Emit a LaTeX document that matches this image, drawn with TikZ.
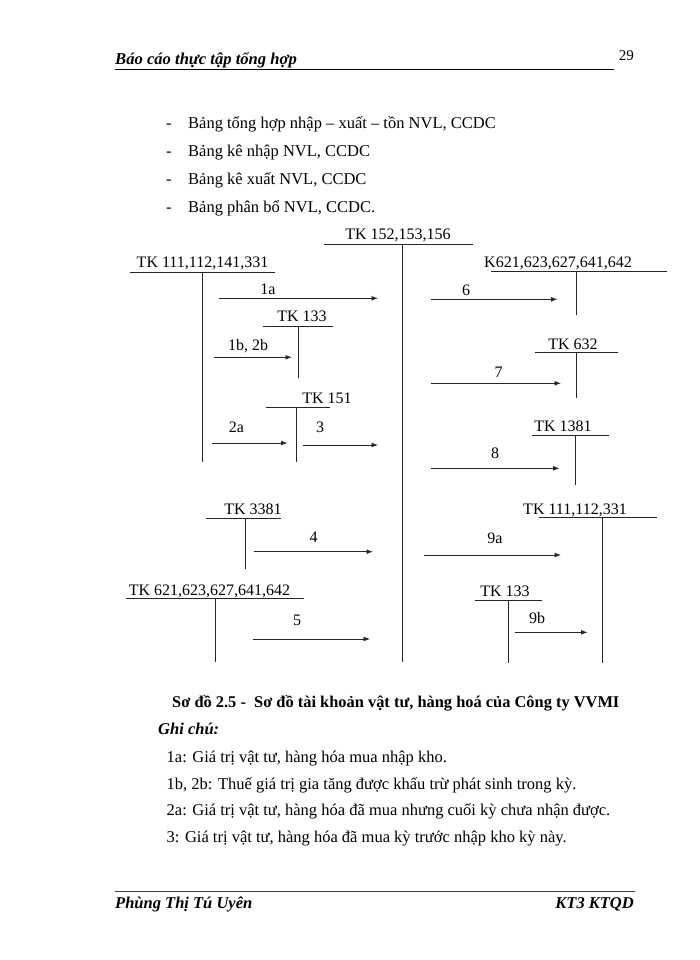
\documentclass[tikz,border=0pt]{standalone}
\usepackage{fontspec}
\setmainfont{Liberation Serif}
\usetikzlibrary{arrows.meta}
\begin{document}
\begin{tikzpicture}[x=1pt,y=-1pt,
  txt/.style={inner sep=0pt,anchor=base west,font=\fontsize{16.5}{20}\selectfont},
  lbl/.style={inner sep=0pt,anchor=base,font=\fontsize{16}{19}\selectfont},
  tline/.style={line width=0.8pt,black!85},
  arr/.style={line width=0.8pt,black!85,-{Latex[length=6.5pt,width=4.8pt]}}]
\useasboundingbox[fill=white] (0,0) rectangle (700,960);
% header
\node[inner sep=0pt,anchor=base west,font=\fontsize{16.6}{19}\selectfont\bfseries\itshape] (hdr) at (115,65) {Báo cáo thực tập tổng hợp};
\node[inner sep=0pt,anchor=base east,font=\fontsize{15}{18}\selectfont] (pg) at (634,61) {29};
\draw[line width=1pt] (115,69.5) -- (614,69.5);
% bullets
\foreach \yy/\tt [count=\i] in {129/{Bảng tổng hợp nhập – xuất – tồn NVL, CCDC},157/{Bảng kê nhập NVL, CCDC},185/{Bảng kê xuất NVL, CCDC},212/{Bảng phân bổ NVL, CCDC.}}{
  \node[txt] (bd\i) at (166,\yy) {-};
  \node[txt] (b\i) at (188,\yy) {\tt};
}
% T accounts
\node[lbl] (tk152) at (398,239) {TK 152,153,156};
\draw[tline] (324,244.5) -- (473,244.5); \draw[tline] (402,244.5) -- (402,662);
\node[lbl] (tk111) at (202.5,267) {TK 111,112,141,331};
\draw[tline] (130,272) -- (275,272); \draw[tline] (202,272) -- (202,462);
\node[lbl] (tk133a) at (302,321.5) {TK 133};
\draw[tline] (263,326) -- (333,326); \draw[tline] (298,326) -- (298,378);
\node[lbl] (tk151) at (327,403.5) {TK 151};
\draw[tline] (265.5,407.5) -- (329.5,407.5); \draw[tline] (296.5,407.5) -- (296.5,462);
\node[lbl] (tk621r) at (558,267) {K621,623,627,641,642};
\draw[tline] (491,271) -- (667,271); \draw[tline] (576,271) -- (576,315);
\node[lbl] (tk632) at (573,349) {TK 632};
\draw[tline] (535,352) -- (618,352); \draw[tline] (576.5,352) -- (576.5,398);
\node[lbl] (tk1381) at (563,431.5) {TK 1381};
\draw[tline] (532,435) -- (609,435); \draw[tline] (575.5,435) -- (575.5,485);
\node[lbl] (tk3381) at (253,514.5) {TK 3381};
\draw[tline] (206,518.5) -- (281,518.5); \draw[tline] (245.5,518.5) -- (245.5,569);
\node[lbl] (tk111b) at (575,514) {TK 111,112,331};
\draw[tline] (538.5,517.5) -- (657,517.5); \draw[tline] (602.5,517.5) -- (602.5,662.5);
\node[lbl] (tk621l) at (209.5,595) {TK 621,623,627,641,642};
\draw[tline] (126,598.5) -- (303.5,598.5); \draw[tline] (215,598.5) -- (215,662);
\node[lbl] (tk133b) at (505,596.5) {TK 133};
\draw[tline] (475,600.5) -- (542,600.5); \draw[tline] (508.5,600.5) -- (508.5,662.5);
% arrows
\coordinate (s1a) at (219,298.3); \coordinate (e1a) at (378,298.3);
\coordinate (s1b) at (214,357.3); \coordinate (e1b) at (292,357.3);
\coordinate (s2a) at (212,443); \coordinate (e2a) at (287.5,443);
\coordinate (s3) at (303,445); \coordinate (e3) at (378,445);
\coordinate (s6) at (431,299.3); \coordinate (e6) at (557.5,299.3);
\coordinate (s7) at (431,383.3); \coordinate (e7) at (561,383.3);
\coordinate (s8) at (431,468.3); \coordinate (e8) at (559.5,468.3);
\coordinate (s4) at (254,551.7); \coordinate (e4) at (373,551.7);
\coordinate (s9a) at (424,555); \coordinate (e9a) at (561,555);
\coordinate (s5) at (253,639); \coordinate (e5) at (370,639);
\coordinate (s9b) at (515,632.3); \coordinate (e9b) at (587.5,632.3);
\foreach \p in {1a,1b,2a,3,6,7,8,4,9a,5,9b}{\draw[arr] (s\p) -- (e\p);}
\node[lbl] (l1a) at (268,294) {1a};
\node[lbl] (l1b) at (248,350) {1b, 2b};
\node[lbl] (l2a) at (236.5,432) {2a};
\node[lbl] (l3) at (320,432) {3};
\node[lbl] (l6) at (466,295) {6};
\node[lbl] (l7) at (498.5,377) {7};
\node[lbl] (l8) at (495,458.5) {8};
\node[lbl] (l4) at (313.5,542) {4};
\node[lbl] (l9a) at (495,543.5) {9a};
\node[lbl] (l5) at (297,625) {5};
\node[lbl] (l9b) at (537,623.5) {9b};
% caption and notes
\node[inner sep=0pt,anchor=base west,font=\fontsize{16.4}{19}\selectfont\bfseries] (cap) at (172,707) {Sơ đồ 2.5 -\ \ Sơ đồ tài khoản vật tư, hàng hoá của Công ty VVMI};
\node[inner sep=0pt,anchor=base west,font=\fontsize{16.5}{19}\selectfont\bfseries\itshape] (gc) at (158,734) {Ghi chú:};
\node[txt] (n1) at (166.5,762.5) {1a: Giá trị vật tư, hàng hóa mua nhập kho.};
\node[txt] (n2) at (166.5,789) {1b, 2b: Thuế giá trị gia tăng được khấu trừ phát sinh trong kỳ.};
\node[txt] (n3) at (166.5,815.5) {2a: Giá trị vật tư, hàng hóa đã mua nhưng cuối kỳ chưa nhận được.};
\node[txt] (n4) at (166.5,842) {3: Giá trị vật tư, hàng hóa đã mua kỳ trước nhập kho kỳ này.};
% footer
\draw[line width=1pt,black!75] (115,891) -- (635,891);
\node[inner sep=0pt,anchor=base west,font=\fontsize{16.5}{19}\selectfont\bfseries\itshape] (au) at (115,908) {Phùng Thị Tú Uyên};
\node[inner sep=0pt,anchor=base east,font=\fontsize{16.5}{19}\selectfont\bfseries\itshape] (cl) at (634,908) {KT3 KTQD};
\end{tikzpicture}
\end{document}
